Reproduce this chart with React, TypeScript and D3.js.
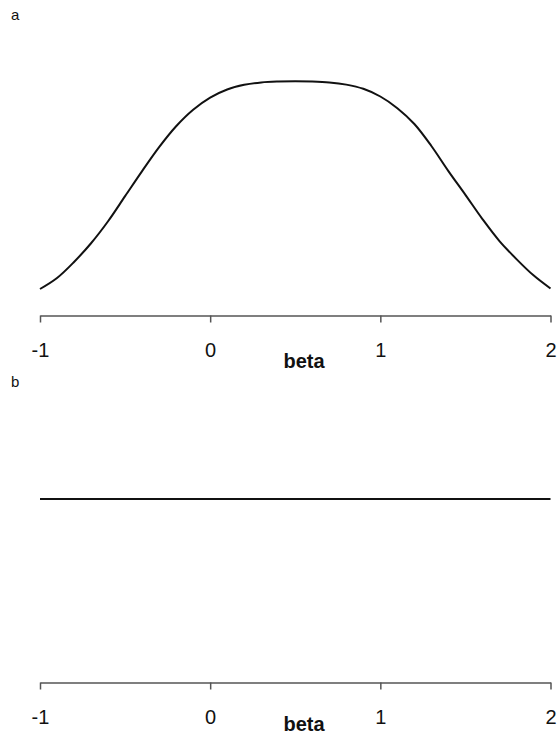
import React, { useEffect, useRef } from "react";
import * as d3 from "d3";

// beta grid shared by both panels
const betaGrid = [
  -1, -0.9, -0.8, -0.7, -0.6, -0.5, -0.4, -0.3, -0.2, -0.1, 0, 0.1, 0.2, 0.3, 0.4, 0.5,
  0.6, 0.7, 0.8, 0.9, 1, 1.1, 1.2, 1.3, 1.4, 1.5, 1.6, 1.7, 1.8, 1.9, 2,
];
// panel a: posterior (arbitrary units)
const posterior = [
  0.05, 0.1, 0.173, 0.258, 0.358, 0.472, 0.586, 0.695, 0.79, 0.865, 0.92, 0.957, 0.978,
  0.989, 0.993, 0.994, 0.993, 0.989, 0.979, 0.96, 0.925, 0.872, 0.8, 0.7, 0.586, 0.478,
  0.368, 0.268, 0.186, 0.112, 0.052,
];
// panel b: flat prior
const priorBeta = [-1, 2];
const prior = [0.764, 0.764];
const tickValues = [-1, 0, 1, 2];
const panelLabels = ["a", "b"];
const axisTitle = "beta";

const W = 557;
const H = 736;
const FONT = "'Liberation Sans', Arial, Helvetica, sans-serif";

const App = () => {
  const ref = useRef<SVGSVGElement | null>(null);

  useEffect(() => {
    document.body.style.margin = "0";
    const svg = d3.select(ref.current);
    svg.selectAll("*").remove();

    const x = d3.scaleLinear().domain([-1, 2]).range([40, 550.5]);
    const y = d3.scaleLinear().domain([0, 1]).range([300, 80]);

    const panels = [
      { xs: betaGrid, ys: posterior, offset: 0, titleY: 368 },
      { xs: priorBeta, ys: prior, offset: 367, titleY: 364 },
    ];

    panels.forEach((p, i) => {
      const g = svg.append("g").attr("transform", `translate(0, ${p.offset})`);

      const line = d3
        .line<number>()
        .x((_, k) => x(p.xs[k]))
        .y((d) => y(d))
        .curve(d3.curveCatmullRom);

      g.append("path")
        .attr("d", line(p.ys))
        .attr("fill", "none")
        .attr("stroke", "#111")
        .attr("stroke-width", 2);

      // bottom axis
      const ax = g
        .append("g")
        .attr("transform", "translate(0, 315.5)")
        .call(
          d3
            .axisBottom(x)
            .tickValues(tickValues)
            .tickFormat((d) => String(d))
            .tickSizeInner(7)
            .tickSizeOuter(0)
            .tickPadding(20)
        );
      ax.select(".domain").attr("stroke", "#555").attr("stroke-width", 1.5);
      ax.selectAll(".tick line").attr("stroke", "#555").attr("stroke-width", 1.5);
      ax.selectAll("text")
        .attr("fill", "#111")
        .style("font-family", FONT)
        .style("font-size", "20px");

      g.append("text")
        .attr("x", 304)
        .attr("y", p.titleY)
        .attr("text-anchor", "middle")
        .style("font-family", FONT)
        .style("font-size", "20px")
        .style("font-weight", "bold")
        .attr("fill", "#111")
        .text(axisTitle);

      g.append("text")
        .attr("x", 11)
        .attr("y", 20)
        .style("font-family", FONT)
        .style("font-size", "15px")
        .attr("fill", "#111")
        .text(panelLabels[i]);
    });
  }, []);

  return <svg ref={ref} width={W} height={H} style={{ display: "block", background: "#fff" }} />;
};

export default App;
